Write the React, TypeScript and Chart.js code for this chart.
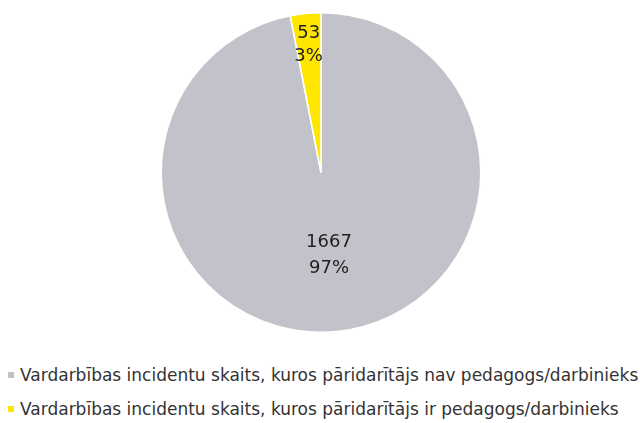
import React, { useEffect, useRef } from "react";
import { Chart, registerables } from "chart.js";

Chart.register(...registerables);

const categories = [
  "Vardarbības incidentu skaits, kuros pāridarītājs nav pedagogs/darbinieks",
  "Vardarbības incidentu skaits, kuros pāridarītājs ir pedagogs/darbinieks",
];
const values = [1667, 53];
const percentLabels = ["97%", "3%"];
const colors = ["#C2C2CA", "#FFE600"];
const labelRadius = [0.52, 0.8];

const labelPlugin = {
  id: "sliceLabels",
  afterDatasetsDraw(chart: any) {
    const { ctx } = chart;
    const meta = chart.getDatasetMeta(0);
    ctx.save();
    ctx.font = "18px 'DejaVu Sans'";
    ctx.fillStyle = "#222222";
    ctx.textAlign = "center";
    ctx.textBaseline = "middle";
    meta.data.forEach((arc: any, i: number) => {
      const { x, y, startAngle, endAngle, outerRadius } = arc.getProps(
        ["x", "y", "startAngle", "endAngle", "outerRadius"],
        true
      );
      const mid = (startAngle + endAngle) / 2;
      const r = outerRadius * labelRadius[i];
      const cx = x + Math.cos(mid) * r;
      const cy = y + Math.sin(mid) * r;
      const gap = i === 0 ? 13 : 11.5;
      ctx.fillText(String(values[i]), cx, cy - gap);
      ctx.fillText(percentLabels[i], cx, cy + gap);
    });
    ctx.restore();
  },
};

export default function App() {
  const ref = useRef<HTMLCanvasElement>(null);
  useEffect(() => {
    if (!ref.current) return;
    const chart = new Chart(ref.current, {
      type: "pie",
      data: {
        labels: categories,
        datasets: [
          {
            data: values,
            backgroundColor: colors,
            borderColor: "#ffffff",
            borderWidth: 1.5,
          },
        ],
      },
      options: {
        responsive: false,
        animation: false,
        layout: { padding: { top: 12, bottom: 12, left: 2, right: 0 } },
        plugins: {
          legend: { display: false },
          tooltip: { enabled: false },
        },
      },
      plugins: [labelPlugin],
    });
    return () => chart.destroy();
  }, []);

  return (
    <div
      style={{
        position: "fixed",
        left: 0,
        top: 0,
        width: 640,
        height: 423,
        background: "#ffffff",
        fontFamily: "'DejaVu Sans', sans-serif",
      }}
    >
      <canvas ref={ref} width={640} height={345} style={{ display: "block" }} />
      {categories.map((c, i) => (
        <div
          key={i}
          style={{
            position: "absolute",
            left: 8,
            top: i === 0 ? 364 : 398,
            height: 22,
            display: "flex",
            alignItems: "center",
            fontSize: 17,
            color: "#333333",
            whiteSpace: "nowrap",
          }}
        >
          <span
            style={{
              display: "inline-block",
              width: 6,
              height: 6,
              background: colors[i],
              marginRight: 6,
            }}
          />
          <span>{c}</span>
        </div>
      ))}
    </div>
  );
}
